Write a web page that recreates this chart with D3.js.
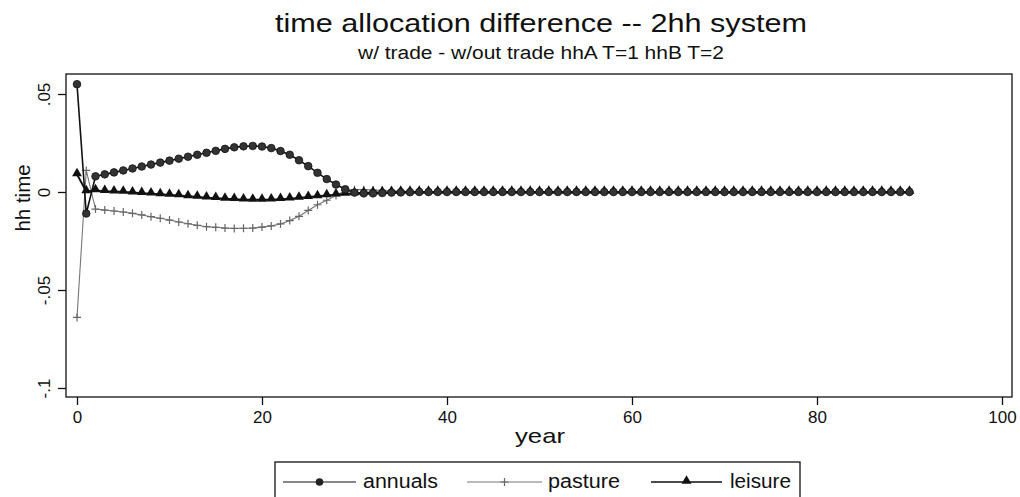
<!DOCTYPE html>
<html>
<head>
<meta charset="utf-8">
<script src="https://cdn.jsdelivr.net/npm/d3@7"></script>
<style>
  html, body { margin: 0; padding: 0; background: #fff; }
  svg { display: block; font-family: "Liberation Sans", Arial, Helvetica, sans-serif; }
</style>
</head>
<body>
<svg id="chart" width="1020" height="497"></svg>
<script>
const years = [0,1,2,3,4,5,6,7,8,9,10,11,12,13,14,15,16,17,18,19,20,21,22,23,24,25,26,27,28,29,30,31,32,33,34,35,36,37,38,39,40,41,42,43,44,45,46,47,48,49,50,51,52,53,54,55,56,57,58,59,60,61,62,63,64,65,66,67,68,69,70,71,72,73,74,75,76,77,78,79,80,81,82,83,84,85,86,87,88,89,90];

const annuals = [0.055, -0.011, 0.008, 0.009, 0.010, 0.011, 0.012, 0.013, 0.014, 0.015,
  0.016, 0.017, 0.018, 0.019, 0.020, 0.021, 0.022, 0.0228, 0.0233, 0.0235,
  0.0232, 0.0224, 0.0209, 0.019, 0.0162, 0.0132, 0.0098, 0.0066, 0.0038, 0.0014,
  -0.0003, -0.0007, -0.0007, -0.0005, -0.0003, -0.0002, -0.0001,
  0,0,0,0,0,0,0,0,0,0, 0,0,0,0,0,0,0,0,0,0, 0,0,0,0,0,0,0,0,0,0,
  0,0,0,0,0,0,0,0,0,0, 0,0,0,0,0,0,0,0,0,0, 0,0,0,0];

const pasture = [-0.064, 0.011, -0.0087, -0.0092, -0.0097, -0.0102, -0.0109, -0.0117, -0.0126, -0.0134,
  -0.0143, -0.0153, -0.0162, -0.017, -0.0177, -0.018, -0.0184, -0.0186, -0.0185, -0.0184,
  -0.0179, -0.0173, -0.0163, -0.0146, -0.0124, -0.0094, -0.0065, -0.0042, -0.0018, 0.0008,
  0.0012, 0.0012, 0.001, 0.0008, 0.0006, 0.0004, 0.0002,
  0,0,0,0,0,0,0,0,0,0, 0,0,0,0,0,0,0,0,0,0, 0,0,0,0,0,0,0,0,0,0,
  0,0,0,0,0,0,0,0,0,0, 0,0,0,0,0,0,0,0,0,0, 0,0,0,0];

const leisure = [0.009, 0.0003, 0.0008, 0.0004, 0.0002, 0.0, -0.0003, -0.0006, -0.0009, -0.0012,
  -0.0015, -0.0018, -0.0022, -0.0025, -0.0029, -0.0032, -0.0035, -0.0037, -0.0039, -0.004,
  -0.004, -0.0039, -0.0037, -0.0034, -0.003, -0.0026, -0.0022, -0.0018, -0.0014, -0.001,
  -0.0007, -0.0005, -0.0003, -0.0002, -0.0001, 0, 0,
  0,0,0,0,0,0,0,0,0,0, 0,0,0,0,0,0,0,0,0,0, 0,0,0,0,0,0,0,0,0,0,
  0,0,0,0,0,0,0,0,0,0, 0,0,0,0,0,0,0,0,0,0, 0,0,0,0];

const seriesNames = ["annuals", "pasture", "leisure"];
const xTicks = [0, 20, 40, 60, 80, 100];
const yTicks = [0.05, 0, -0.05, -0.1];
const yTickLabels = [".05", "0", "-.05", "-.1"];
const titleText = "time allocation difference -- 2hh system";
const subtitleText = "w/ trade - w/out trade hhA T=1 hhB T=2";
const xTitle = "year";
const yTitle = "hh time";

const svg = d3.select("#chart");
const frame = {left: 66, top: 74, right: 1012, bottom: 397};

const x = d3.scaleLinear().domain([0, 100]).range([77, 1002]);
const y = d3.scaleLinear().domain([-0.1, 0.05]).range([388, 94]);

// frame
svg.append("rect")
  .attr("x", frame.left).attr("y", frame.top)
  .attr("width", frame.right - frame.left).attr("height", frame.bottom - frame.top)
  .attr("fill", "none").attr("stroke", "#111").attr("stroke-width", 1.3);

// y axis
const yAxis = d3.axisLeft(y).tickValues(yTicks).tickSize(8).tickPadding(6)
  .tickFormat((d, i) => yTickLabels[i]);
const gy = svg.append("g").attr("transform", `translate(${frame.left},0)`).call(yAxis);
gy.select(".domain").remove();
gy.selectAll(".tick line").attr("stroke", "#111").attr("stroke-width", 1.3);
gy.selectAll(".tick text")
  .attr("font-size", 17).attr("fill", "#111")
  .attr("text-anchor", "middle")
  .attr("x", 0).attr("dy", 0)
  .attr("transform", "translate(-16,0) rotate(-90)");

// x axis
const xAxis = d3.axisBottom(x).tickValues(xTicks).tickSize(8).tickPadding(6);
const gx = svg.append("g").attr("transform", `translate(0,${frame.bottom})`).call(xAxis);
gx.select(".domain").remove();
gx.selectAll(".tick line").attr("stroke", "#111").attr("stroke-width", 1.3);
gx.selectAll(".tick text").attr("font-size", 17).attr("fill", "#111");

// titles
svg.append("text").attr("x", 541).attr("y", 32).attr("text-anchor", "middle")
  .attr("font-size", 26).attr("fill", "#111")
  .attr("textLength", 532).attr("lengthAdjust", "spacingAndGlyphs").text(titleText);
svg.append("text").attr("x", 541).attr("y", 59).attr("text-anchor", "middle")
  .attr("font-size", 18).attr("fill", "#111")
  .attr("textLength", 366).attr("lengthAdjust", "spacingAndGlyphs").text(subtitleText);
svg.append("text").attr("x", 540).attr("y", 443).attr("text-anchor", "middle")
  .attr("font-size", 21).attr("fill", "#111")
  .attr("textLength", 50).attr("lengthAdjust", "spacingAndGlyphs").text(xTitle);
svg.append("text").attr("transform", "translate(30,198) rotate(-90)").attr("text-anchor", "middle")
  .attr("font-size", 20.5).attr("fill", "#111").text(yTitle);

const line = d3.line().x((d, i) => x(years[i])).y(d => y(d));

const plot = svg.append("g");

// pasture (gray, + markers)
plot.append("path").datum(pasture).attr("d", line)
  .attr("fill", "none").attr("stroke", "#777").attr("stroke-width", 1.1);
plot.selectAll(".pm").data(pasture).enter().append("path")
  .attr("d", (d, i) => `M${x(years[i]) - 4},${y(d)}h8M${x(years[i])},${y(d) - 4}v8`)
  .attr("stroke", "#666").attr("stroke-width", 1.2).attr("fill", "none");

// leisure (black, triangles)
plot.append("path").datum(leisure).attr("d", line)
  .attr("fill", "none").attr("stroke", "#111").attr("stroke-width", 2);
const tri = d3.symbol().type(d3.symbolTriangle).size(42);
plot.selectAll(".lm").data(leisure).enter().append("path")
  .attr("d", tri)
  .attr("transform", (d, i) => `translate(${x(years[i])},${y(d) - 1})`)
  .attr("fill", "#111");

// annuals (black, circles)
plot.append("path").datum(annuals).attr("d", line)
  .attr("fill", "none").attr("stroke", "#111").attr("stroke-width", 1.6);
plot.selectAll(".am").data(annuals).enter().append("circle")
  .attr("cx", (d, i) => x(years[i])).attr("cy", d => y(d)).attr("r", 3.8)
  .attr("fill", "#333").attr("stroke", "#111").attr("stroke-width", 0.8);

// legend
const lg = svg.append("g");
lg.append("rect").attr("x", 275).attr("y", 462).attr("width", 525).attr("height", 42)
  .attr("fill", "none").attr("stroke", "#111").attr("stroke-width", 1.3);
const legendItems = [
  {name: seriesNames[0], x1: 283, x2: 356, tx: 363, tl: 75},
  {name: seriesNames[1], x1: 467, x2: 542, tx: 548, tl: 72},
  {name: seriesNames[2], x1: 651, x2: 722, tx: 730, tl: 61}
];
const ly = 482;
legendItems.forEach((it, k) => {
  const mx = (it.x1 + it.x2) / 2;
  lg.append("line").attr("x1", it.x1).attr("x2", it.x2).attr("y1", ly).attr("y2", ly)
    .attr("stroke", k === 1 ? "#777" : "#111").attr("stroke-width", k === 2 ? 1.6 : 1.2);
  if (k === 0) {
    lg.append("circle").attr("cx", mx).attr("cy", ly).attr("r", 3.8).attr("fill", "#222");
  } else if (k === 1) {
    lg.append("path").attr("d", `M${mx - 4},${ly}h8M${mx},${ly - 4}v8`).attr("stroke", "#666").attr("stroke-width", 1.2);
  } else {
    lg.append("path").attr("d", tri).attr("transform", `translate(${mx},${ly - 1})`).attr("fill", "#111");
  }
  lg.append("text").attr("x", it.tx).attr("y", ly + 6).attr("font-size", 20).attr("fill", "#111")
    .attr("textLength", it.tl).attr("lengthAdjust", "spacingAndGlyphs").text(it.name);
});
</script>
</body>
</html>
